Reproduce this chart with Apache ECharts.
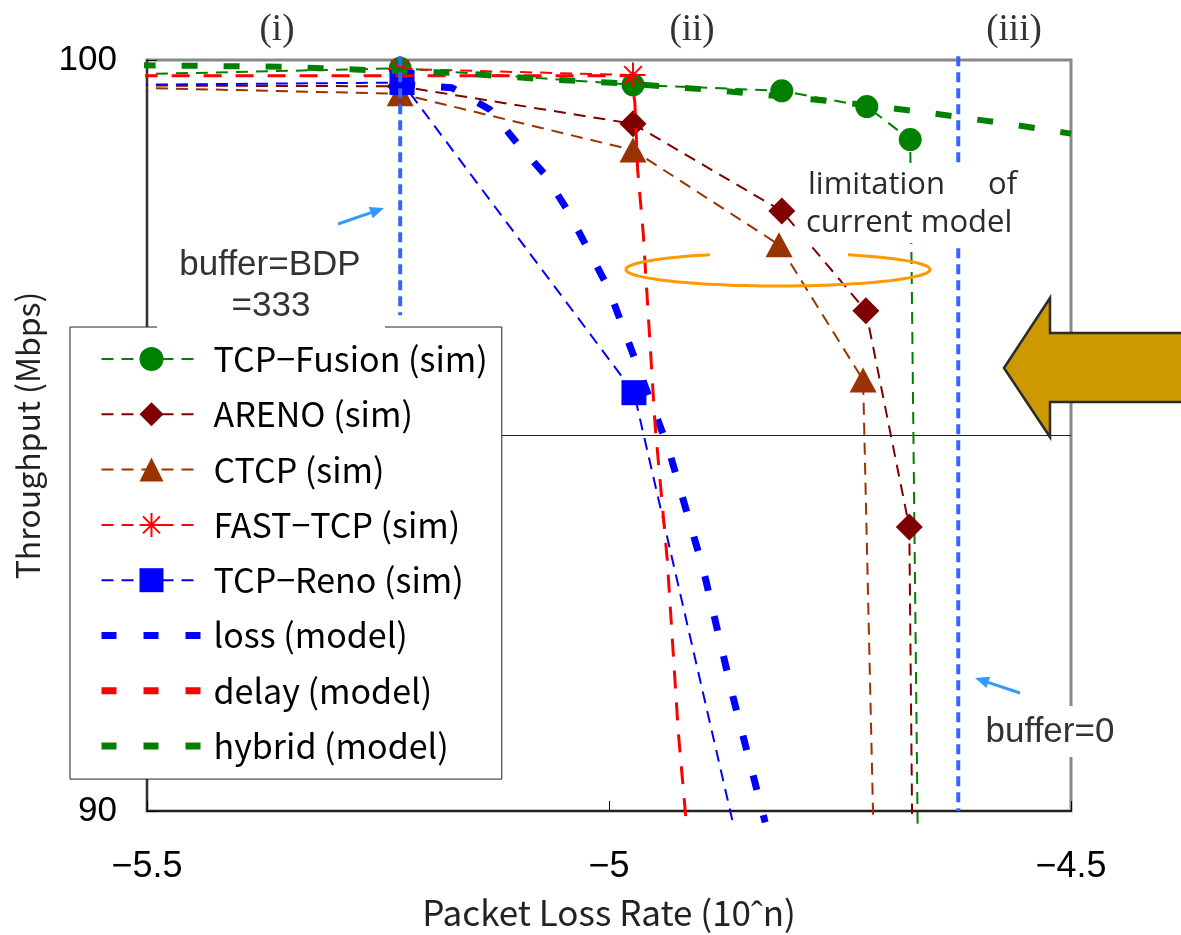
<!DOCTYPE html>
<html>
<head>
<meta charset="utf-8">
<script src="https://cdn.jsdelivr.net/npm/echarts@6.0.0/dist/echarts.min.js"></script>
<style>
html, body { margin: 0; padding: 0; background: #fff; }
#chart { width: 1181px; height: 935px; }
</style>
</head>
<body>
<div id="chart"></div>
<script>
// axis ranges / ticks
const xTicks = [-5.5, -5, -4.5];
const yTicks = [90, 95, 100];

// simulation results  [log10(loss rate), throughput Mbps]
const fusionSim = [[-5.512, 99.81], [-5.226, 99.89], [-4.974, 99.67], [-4.813, 99.59], [-4.721, 99.38], [-4.674, 98.94], [-4.666, 89.83]];
const arenoSim = [[-5.512, 99.66], [-5.226, 99.65], [-4.974, 99.15], [-4.813, 97.99], [-4.722, 96.66], [-4.675, 93.78], [-4.672, 89.96]];
const ctcpSim = [[-5.512, 99.63], [-5.226, 99.55], [-4.974, 98.80], [-4.816, 97.54], [-4.725, 95.74], [-4.714, 89.85]];
const fastSim = [[-5.226, 99.88], [-4.974, 99.80]];
const renoSim = [[-5.512, 99.67], [-5.224, 99.70], [-4.973, 95.57], [-4.866, 89.85]];

// model curves
const lossModel = [[-5.226, 99.68], [-5.170, 99.63], [-5.129, 99.34], [-5.100, 98.90], [-5.069, 98.47], [-5.044, 97.98], [-5.001, 96.97], [-4.969, 95.92], [-4.936, 94.84], [-4.898, 93.22], [-4.866, 91.53], [-4.831, 89.85]];
const delayModel = [[-5.508, 99.79], [-4.976, 99.79], [-4.972, 99.43], [-4.969, 98.54], [-4.963, 97.70], [-4.959, 96.90], [-4.950, 95.12], [-4.937, 93.35], [-4.925, 91.05], [-4.917, 89.93]];
const hybridModel = [[-5.508, 99.93], [-5.351, 99.91], [-5.226, 99.85], [-5.169, 99.83], [-5.077, 99.75], [-4.986, 99.69], [-4.887, 99.60], [-4.749, 99.44], [-4.656, 99.30], [-4.563, 99.14], [-4.5, 99.02]];

// buffer size markers
const bufferBdp = [[-5.226, 100.05], [-5.226, 96.6]];
const bufferZero = [[-4.622, 100.05], [-4.622, 90]];

const names = ["TCP−Fusion (sim)", "ARENO (sim)", "CTCP (sim)", "FAST−TCP (sim)", "TCP−Reno (sim)", "loss (model)", "delay (model)", "hybrid (model)"];

const xMin = xTicks[0], xMax = xTicks[xTicks.length - 1];
const yMin = yTicks[0], yMax = yTicks[yTicks.length - 1];

// end points that run off the plot get no marker
function pts(list) {
    return list.map(function (p) {
        if (p[0] < xMin || p[1] < yMin) {
            return { value: p, symbol: "none" };
        }
        return p;
    });
}

function sim(name, data, color, symbol, size) {
    return {
        name: name,
        type: "line",
        data: pts(data),
        symbol: symbol,
        symbolSize: size,
        showSymbol: true,
        clip: false,
        z: 3,
        lineStyle: { color: color, width: 2, type: [12, 8] },
        itemStyle: { color: color, borderWidth: 0 },
    };
}

function model(name, data, color, width, dash) {
    return {
        name: name,
        type: "line",
        data: data,
        symbol: "none",
        clip: false,
        z: 4,
        lineStyle: { color: color, width: width, type: dash },
        itemStyle: { color: color },
    };
}

function bufferLine(data) {
    return {
        type: "line",
        data: data,
        symbol: "none",
        clip: false,
        z: 5,
        silent: true,
        lineStyle: { color: "#3366ff", width: 4, type: [10, 6] },
    };
}

// open ellipse outline used as a highlight ring
function ringPoints(cx, cy, rx, ry, fromDeg, toDeg) {
    const out = [];
    for (let a = fromDeg; a <= toDeg; a += 3) {
        const r = a * Math.PI / 180;
        out.push([cx + rx * Math.cos(r), cy + ry * Math.sin(r)]);
    }
    return out;
}

const asterisk = "path://M12 0L12 24M0 12L24 12M3.5 3.5L20.5 20.5M20.5 3.5L3.5 20.5";

const fast = sim(names[3], fastSim, "#ff0000", asterisk, 25);
fast.itemStyle = { color: "rgba(0,0,0,0)", borderColor: "#ff0000", borderWidth: 2 };

const modelLegend = { width: 7, type: [15, 27] };

const chart = echarts.init(document.getElementById("chart"));

const option = {
    animation: false,
    grid: {
        left: 147,
        right: 110,
        top: 60,
        bottom: 123,
        show: true,
        borderColor: "#888",
        borderWidth: 3,
        backgroundColor: "#fff",
    },
    xAxis: {
        type: "value",
        min: xMin,
        max: xMax,
        interval: 0.5,
        name: "Packet Loss Rate (10ˆn)",
        nameLocation: "middle",
        nameGap: 84,
        nameTextStyle: { fontFamily: "Noto Sans CJK JP", fontSize: 35, color: "#222" },
        axisLine: { show: true, lineStyle: { color: "#222", width: 2 } },
        axisTick: { show: true, inside: true, length: 10, lineStyle: { color: "#000" } },
        axisLabel: {
            margin: 38,
            fontFamily: "'Liberation Sans Narrow', 'Liberation Sans'",
            fontSize: 36,
            color: "#000",
            formatter: function (v) {
                return String(v).replace("-", "−");
            },
        },
        splitLine: { show: false },
    },
    yAxis: {
        type: "value",
        min: yMin,
        max: yMax,
        interval: 5,
        name: "Throughput (Mbps)",
        nameLocation: "middle",
        nameRotate: 90,
        nameGap: 103,
        nameTextStyle: { fontFamily: "Noto Sans CJK JP", fontSize: 32, color: "#222" },
        axisLine: { show: true, lineStyle: { color: "#333", width: 2 } },
        axisTick: { show: true, inside: true, length: 10, lineStyle: { color: "#000" } },
        axisLabel: {
            margin: 30,
            fontFamily: "'Liberation Sans Narrow', 'Liberation Sans'",
            fontSize: 35,
            color: "#000",
        },
        splitLine: { show: true, lineStyle: { color: ["#222", "#222", "#888"], width: 1 } },
    },
    legend: {
        orient: "vertical",
        left: 70,
        top: 327,
        selectedMode: false,
        backgroundColor: "#fff",
        borderColor: "#222",
        borderWidth: 1,
        padding: [15, 14, 16, 28],
        itemWidth: 100,
        itemHeight: 30,
        itemGap: 21.3,
        textStyle: {
            fontFamily: "Noto Sans CJK JP",
            fontSize: 34,
            color: "#000",
            padding: [0, 0, 0, 7],
        },
        data: [
            names[0], names[1], names[2], names[3], names[4],
            { name: names[5], lineStyle: modelLegend, itemStyle: { opacity: 0 } },
            { name: names[6], lineStyle: modelLegend, itemStyle: { opacity: 0 } },
            { name: names[7], lineStyle: modelLegend, itemStyle: { opacity: 0 } },
        ],
    },
    series: [
        sim(names[0], fusionSim, "#008000", "circle", 23),
        sim(names[1], arenoSim, "#800000", "diamond", 27),
        sim(names[2], ctcpSim, "#993300", "triangle", [27, 25]),
        fast,
        sim(names[4], renoSim, "#0000ff", "rect", 25),
        model(names[5], lossModel, "#0000ff", 7, [15, 26]),
        model(names[6], delayModel, "#ff0000", 3, [18, 14]),
        model(names[7], hybridModel, "#008000", 6, [16, 26]),
        bufferLine(bufferBdp),
        bufferLine(bufferZero),
    ],
    graphic: [
        { type: "text", x: 277, y: 30, z: 20, style: { text: "(i)", align: "center", verticalAlign: "middle", font: "37px 'Liberation Serif'", fill: "#333" } },
        { type: "text", x: 692, y: 30, z: 20, style: { text: "(ii)", align: "center", verticalAlign: "middle", font: "37px 'Liberation Serif'", fill: "#333" } },
        { type: "text", x: 1014, y: 30, z: 20, style: { text: "(iii)", align: "center", verticalAlign: "middle", font: "37px 'Liberation Serif'", fill: "#333" } },

        { type: "rect", z: 20, shape: { x: 157, y: 232, width: 228, height: 98 }, style: { fill: "#fff" } },
        { type: "text", x: 270, y: 265, z: 21, style: { text: "buffer=BDP", align: "center", verticalAlign: "middle", font: "35px 'Liberation Sans'", fill: "#333" } },
        { type: "text", x: 271, y: 306, z: 21, style: { text: "=333", align: "center", verticalAlign: "middle", font: "35px 'Liberation Sans'", fill: "#333" } },

        { type: "rect", z: 20, shape: { x: 972, y: 706, width: 152, height: 51 }, style: { fill: "#fff" } },
        { type: "text", x: 1050, y: 732, z: 21, style: { text: "buffer=0", align: "center", verticalAlign: "middle", font: "35px 'Liberation Sans'", fill: "#333" } },

        { type: "rect", z: 20, shape: { x: 795, y: 163, width: 222, height: 80 }, style: { fill: "#fff" } },
        { type: "text", x: 808, y: 185, z: 21, style: { text: "limitation", align: "left", verticalAlign: "middle", font: "31px 'Open Sans'", fill: "#2a2a2a" } },
        { type: "text", x: 988, y: 185, z: 21, style: { text: "of", align: "left", verticalAlign: "middle", font: "31px 'Open Sans'", fill: "#2a2a2a" } },
        { type: "text", x: 806, y: 223, z: 21, style: { text: "current model", align: "left", verticalAlign: "middle", font: "31px 'Open Sans'", fill: "#2a2a2a" } },

        // pointer arrows
        { type: "line", z: 22, shape: { x1: 338, y1: 224, x2: 371, y2: 212.6 }, style: { stroke: "#3399ff", lineWidth: 3 } },
        { type: "polygon", z: 22, shape: { points: [[384, 208], [372.8, 218.3], [368.8, 206.9]] }, style: { fill: "#3399ff" } },
        { type: "line", z: 22, shape: { x1: 1020, y1: 693, x2: 988, y2: 682.4 }, style: { stroke: "#3399ff", lineWidth: 3 } },
        { type: "polygon", z: 22, shape: { points: [[975, 678], [990.2, 676.7], [986.4, 688.1]] }, style: { fill: "#3399ff" } },

        // ring around the sim/model gap (open at the top)
        {
            type: "polyline",
            z: 22,
            shape: { points: ringPoints(778, 269.5, 152, 16.5, -62.6, 243.4) },
            style: { fill: null, stroke: "#ff9900", lineWidth: 3 },
        },

        // big arrow on the right
        {
            type: "polygon",
            z: 22,
            shape: { points: [[1004, 368], [1050, 298], [1050, 333], [1186, 333], [1186, 402], [1050, 402], [1050, 437]] },
            style: { fill: "#cc9900", stroke: "#2b2b2b", lineWidth: 2.5 },
        },
    ],
};

chart.setOption(option);
window.addEventListener("resize", function () {
    chart.resize();
});
</script>
</body>
</html>
